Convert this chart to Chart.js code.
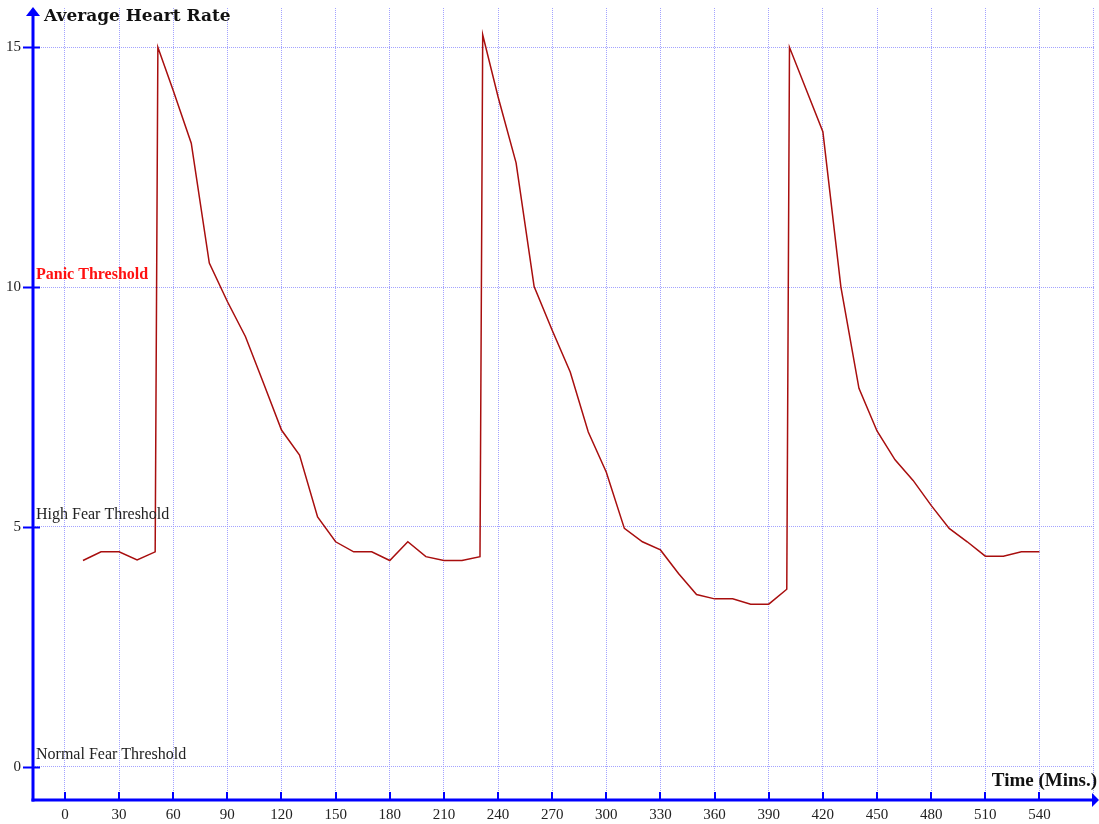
<!DOCTYPE html>
<html>
<head>
<meta charset="utf-8">
<script src="https://cdn.jsdelivr.net/npm/chart.js@4/dist/chart.umd.min.js"></script>
<style>
  html, body { margin: 0; padding: 0; background: #fff; }
  canvas { display: block; }
</style>
</head>
<body>
<canvas id="chart" width="1099" height="824"></canvas>
<script>
// data
const minutes = [10, 20, 30, 40, 50, 51.5, 60, 70, 80, 90, 100, 110, 120, 130, 140, 150, 160, 170, 180, 190, 200, 210, 220, 230,
  231.5, 240, 250, 260, 270, 280, 290, 300, 310, 320, 330, 340, 350, 360, 370, 380, 390, 400,
  401.5, 420, 430, 440, 450, 460, 470, 480, 490, 500, 510, 520, 530, 540];
const heartRate = [4.3, 4.48, 4.48, 4.31, 4.48, 15.0, 14.1, 13.0, 10.5, 9.7, 8.97, 8.0, 7.02, 6.5, 5.21, 4.69, 4.48, 4.48, 4.3, 4.69, 4.38, 4.3, 4.3, 4.38,
  15.26, 13.97, 12.59, 10.01, 9.1, 8.23, 6.98, 6.14, 4.97, 4.69, 4.52, 4.03, 3.59, 3.5, 3.5, 3.39, 3.39, 3.7,
  15.0, 13.24, 10.0, 7.89, 7.0, 6.4, 5.97, 5.45, 4.97, 4.69, 4.39, 4.39, 4.48, 4.48];

const xTickLabels = [0, 30, 60, 90, 120, 150, 180, 210, 240, 270, 300, 330, 360, 390, 420, 450, 480, 510, 540];
const xGridValues = [...xTickLabels, 570];
const yTickLabels = [0, 5, 10, 15];

const thresholdNames = ['Normal Fear Threshold', 'High Fear Threshold', 'Panic Threshold'];
const thresholdValues = [0, 5, 10];
const thresholdColors = ['#222', '#222', '#ff1010'];
const thresholdBold = [false, false, true];

const $ = id => document.getElementById(id);
const blue = '#0000ff';
const gridColor = 'rgba(140,140,255,0.8)';

function noPad(s){ s.paddingTop = 0; s.paddingBottom = 0; s.paddingLeft = 0; s.paddingRight = 0; }

// axes with arrows, tick marks, titles, threshold labels
const decorations = {
  id: 'decorations',
  afterDraw(chart){
    const ctx = chart.ctx;
    const a = chart.chartArea;
    const xs = chart.scales.x, ys = chart.scales.y;
    ctx.save();
    ctx.strokeStyle = blue; ctx.fillStyle = blue;

    // tick marks
    ctx.lineWidth = 2;
    yTickLabels.forEach(v => {
      const py = Math.round(ys.getPixelForValue(v)) + 0.5;
      ctx.beginPath(); ctx.moveTo(a.left - 10, py); ctx.lineTo(a.left + 7, py); ctx.stroke();
    });
    xTickLabels.forEach(v => {
      const px = Math.round(xs.getPixelForValue(v));
      ctx.beginPath(); ctx.moveTo(px, a.bottom); ctx.lineTo(px, a.bottom - 8); ctx.stroke();
    });

    // axis lines
    ctx.lineWidth = 3;
    ctx.beginPath(); ctx.moveTo(a.left, a.bottom + 1.5); ctx.lineTo(a.left, a.top + 6); ctx.stroke();
    ctx.beginPath(); ctx.moveTo(a.left - 1.5, a.bottom); ctx.lineTo(a.right - 1, a.bottom); ctx.stroke();

    // arrows
    ctx.beginPath();
    ctx.moveTo(a.left, a.top - 1); ctx.lineTo(a.left - 7, a.top + 8); ctx.lineTo(a.left + 7, a.top + 8); ctx.closePath(); ctx.fill();
    ctx.beginPath();
    ctx.moveTo(a.right + 4, a.bottom); ctx.lineTo(a.right - 3, a.bottom - 7); ctx.lineTo(a.right - 3, a.bottom + 7); ctx.closePath(); ctx.fill();

    // titles
    ctx.fillStyle = '#111';
    ctx.textBaseline = 'middle';
    ctx.textAlign = 'left';
    ctx.font = 'bold 17px "DejaVu Serif"';
    ctx.fillText('Average Heart Rate', 44, 17);
    ctx.textAlign = 'right';
    ctx.font = 'bold 19px "Liberation Serif"';
    ctx.fillText('Time (Mins.)', 1097, 781);

    // threshold labels
    ctx.textAlign = 'left';
    thresholdNames.forEach((name, i) => {
      ctx.fillStyle = thresholdColors[i];
      ctx.font = (thresholdBold[i] ? 'bold ' : '') + '16px "Liberation Serif"';
      ctx.fillText(name, 36, ys.getPixelForValue(thresholdValues[i]) - 12);
    });
    ctx.restore();
  }
};

new Chart($('chart').getContext('2d'), {
  type: 'line',
  data: {
    datasets: [{
      data: minutes.map((m, i) => ({ x: m, y: heartRate[i] })),
      borderColor: '#a80e0e',
      borderWidth: 1.5,
      pointRadius: 0,
      tension: 0,
      fill: false
    }]
  },
  options: {
    responsive: false,
    animation: false,
    layout: { padding: { top: 8, right: 4, left: 0, bottom: 0 } },
    plugins: { legend: { display: false }, tooltip: { enabled: false } },
    scales: {
      x: {
        type: 'linear',
        min: -17.7,
        max: 570.8,
        afterBuildTicks: s => { s.ticks = xGridValues.map(v => ({ value: v })); },
        afterFit: s => { s.height = 24; noPad(s); },
        grid: { color: gridColor, lineWidth: 1, drawTicks: false },
        border: { display: false, dash: [1, 1] },
        ticks: {
          autoSkip: false, maxRotation: 0, padding: 6,
          color: '#222', font: { family: '"Liberation Serif"', size: 15 },
          callback: v => xTickLabels.includes(v) ? String(v) : ''
        }
      },
      y: {
        min: -0.694,
        max: 15.82,
        afterBuildTicks: s => { s.ticks = yTickLabels.map(v => ({ value: v })); },
        afterFit: s => { s.width = 33; noPad(s); },
        grid: { color: gridColor, lineWidth: 1, drawTicks: false },
        border: { display: false, dash: [1, 1] },
        ticks: {
          padding: 12,
          color: '#222', font: { family: '"Liberation Serif"', size: 15 }
        }
      }
    }
  },
  plugins: [decorations]
});
</script>
</body>
</html>
